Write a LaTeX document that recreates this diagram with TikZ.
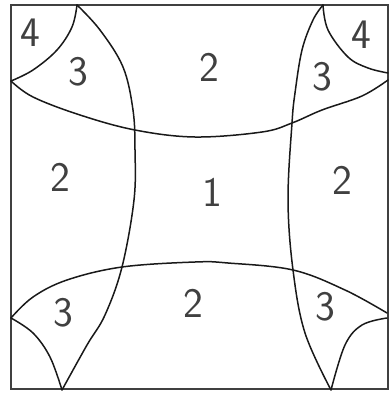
\documentclass[tikz,border=0pt]{standalone}
\usepackage{tikz}
\usetikzlibrary{positioning,calc}

\begin{document}
\begin{tikzpicture}[x=1pt, y=-1pt,
    pencil/.style={draw=black!90, line width=1.5pt, line join=round, line cap=round},
    frame/.style={draw=black!75, line width=1.8pt},
    digit/.style={text=black!75, inner sep=0pt, font=\sffamily\fontsize{42}{42}\selectfont}]

    \useasboundingbox (0,0) rectangle (390,393);

    % Outer square
    \draw[frame] (11,5) rectangle (388,389);

    % Corner points where the curves meet the square
    \coordinate (tl) at (77,5);
    \coordinate (tr) at (323,5);
    \coordinate (lt) at (11,81);
    \coordinate (rt) at (388,80);
    \coordinate (lb) at (11,318);
    \coordinate (rb) at (387,313);
    \coordinate (bl) at (62,390);
    \coordinate (br) at (331,390);

    % Long curves
    \draw[pencil] plot[smooth, tension=0.6] coordinates {(tl) (100,30) (123,67) (133,110) (135,150) (134,200) (122,267) (105,315) (87,345) (bl)};
    \draw[pencil] plot[smooth, tension=0.6] coordinates {(tr) (313,20) (302,50) (295,93) (292,123) (288,200) (293,270) (305,333) (br)};
    \draw[pencil] plot[smooth, tension=0.6] coordinates {(lt) (33,97) (80,115) (135,130) (195,137) (262,132) (292,123) (322,110) (362,96) (rt)};
    \draw[pencil] plot[smooth, tension=0.6] coordinates {(lb) (33,297) (67,280) (122,267) (195,262) (228,263) (293,270) (345,290) (rb)};

    % Corner arcs
    \draw[pencil] plot[smooth, tension=0.6] coordinates {(tl) (72,27) (57,50) (33,70) (lt)};
    \draw[pencil] plot[smooth, tension=0.6] coordinates {(tr) (328,30) (348,57) (368,68) (388,73)};
    \draw[pencil] plot[smooth, tension=0.6] coordinates {(lb) (33,333) (50,357) (bl)};
    \draw[pencil] plot[smooth, tension=0.6] coordinates {(387,318) (362,325) (345,345) (br)};

    % Region labels
    \node[digit] (fourl) at (30,33) {4};
    \node[digit] (fourr) at (361,35) {4};
    \node[digit] (threetl) at (78,72) {3};
    \node[digit] (threetr) at (322,77) {3};
    \node[digit] (twotop) at (209,67) {2};
    \node[digit] (twol) at (60,177) {2};
    \node[digit] (one) at (212,192) {1};
    \node[digit] (twor) at (342,180) {2};
    \node[digit] (threebl) at (63,313) {3};
    \node[digit] (twobot) at (193,303) {2};
    \node[digit] (threebr) at (325,307) {3};
\end{tikzpicture}
\end{document}
